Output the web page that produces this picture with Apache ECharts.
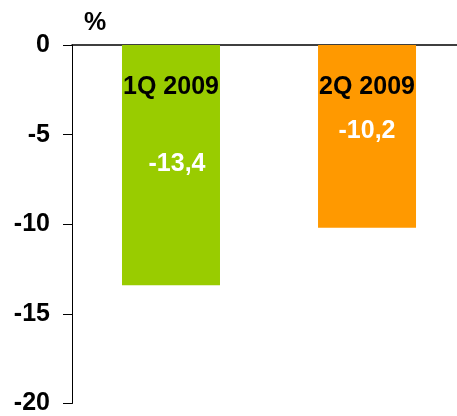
<!DOCTYPE html>
<html>
<head>
<meta charset="utf-8">
<script src="https://cdn.jsdelivr.net/npm/echarts@6/dist/echarts.min.js"></script>
<style>
  html, body { margin: 0; padding: 0; background: #fff; }
  #chart { width: 457px; height: 416px; }
</style>
</head>
<body>
<div id="chart"></div>
<script>
// 季度数据
const quarters = ['1Q 2009', '2Q 2009'];
const values = [-13.4, -10.2];
const barColors = ['#99cc00', '#ff9900'];
const yTicks = [0, -5, -10, -15, -20];
// 柱子在横轴上的位置（0、1），横轴范围让间距与原图一致
const slots = [0, 1];
const xRange = [-0.505, 1.459];

const FONT = 'Liberation Sans, Arial, sans-serif';
const chart = echarts.init(document.getElementById('chart'));

// 数值标签偏移（每根柱子位置不同）
const valueOffsets = [[6, 108], [0, 75]];

chart.setOption({
    animation: false,
    backgroundColor: '#fff',
    title: {
        text: '%', left: 79, top: 6,
        textStyle: { fontFamily: FONT, fontSize: 25, fontWeight: 'bold', color: '#000' }
    },
    grid: { left: 72, right: 0, top: 45, bottom: 12.5 },
    xAxis: {
        type: 'value', min: xRange[0], max: xRange[1],
        axisLine: { show: true, onZero: true, lineStyle: { color: '#000', width: 1.5 } },
        axisTick: { show: false }, axisLabel: { show: false }, splitLine: { show: false }
    },
    yAxis: {
        type: 'value', min: yTicks[yTicks.length - 1], max: yTicks[0], interval: 5,
        axisLine: { show: true, onZero: false, lineStyle: { color: '#000', width: 1 } },
        axisTick: { show: true, length: 9, lineStyle: { color: '#000' } },
        splitLine: { show: false },
        axisLabel: { margin: 22, fontFamily: FONT, fontSize: 25, fontWeight: 'bold', color: '#000' }
    },
    series: [
        {
            type: 'bar', barWidth: 98,
            data: values.map((v, i) => ({ value: [slots[i], v], itemStyle: { color: barColors[i] } })),
            label: {
                show: true, position: 'insideTop', distance: 30,
                formatter: p => quarters[p.dataIndex],
                fontFamily: FONT, fontSize: 25, fontWeight: 'bold', color: '#000'
            }
        },
        {
            type: 'bar', barWidth: 98, barGap: '-100%', z: 3,
            itemStyle: { color: 'transparent' },
            data: values.map((v, i) => ({ value: [slots[i], v], label: { offset: [valueOffsets[i][0], valueOffsets[i][1] - 28] } })),
            label: {
                show: true, position: 'insideTop', distance: 27,
                formatter: p => String(values[p.dataIndex]).replace('.', ','),
                fontFamily: FONT, fontSize: 25, fontWeight: 'bold', color: '#fff'
            }
        }
    ]
});
</script>
</body>
</html>
